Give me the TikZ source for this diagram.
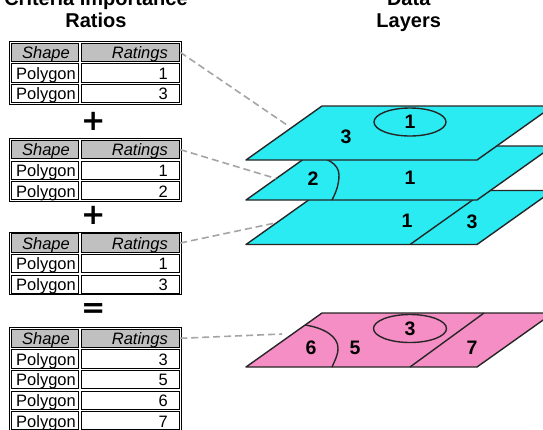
\documentclass[tikz,border=0pt]{standalone}
\usepackage{fontspec}
\setmainfont{Liberation Sans}
\newfontfamily\symfont{DejaVu Sans}
\usetikzlibrary{fit}

\definecolor{layercyan}{RGB}{42,234,242}
\definecolor{layerpink}{RGB}{245,142,196}
\definecolor{hdrgray}{RGB}{192,192,192}
\definecolor{leader}{RGB}{165,165,165}

\tikzset{
  cellbox/.style={draw=black, line width=0.9pt, inner sep=0pt, minimum height=18.2pt},
  hdrbox/.style={cellbox, fill=hdrgray},
  celltext/.style={inner sep=0pt, font=\fontsize{16.5}{18}\selectfont},
  tableframe/.style={draw=black, line width=1pt, inner sep=1.2pt},
  layerline/.style={draw=black!85, line width=1.4pt, line join=round},
  laynum/.style={font=\bfseries\fontsize{19.5}{21}\selectfont, inner sep=0pt},
  titletext/.style={font=\bfseries\fontsize{20}{24}\selectfont, inner sep=0pt, anchor=base},
  opsign/.style={font=\symfont\bfseries\fontsize{29}{31}\selectfont, inner sep=0pt},
  leaderline/.style={draw=leader, line width=1.6pt, dash pattern=on 7pt off 4pt},
}

% a ratings table: #1 name, #2 top edge, #3 number of data rows, #4 ratings
\newcommand\ratingtable[4]{%
  \node[hdrbox, minimum width=67.6pt] (#1-hs) at (45,#2+10.3) {};
  \node[hdrbox, minimum width=98.6pt] (#1-hr) at (130.5,#2+10.3) {};
  \node[celltext, anchor=base] (#1-hst) at (46,#2+16.6) {\itshape Shape};
  \node[celltext, anchor=base east] (#1-hrt) at (168,#2+16.6) {\itshape Ratings};
  \foreach \v [count=\i] in {#4} {
    \node[cellbox, minimum width=67.6pt] (#1-\i s) at (45,#2+10.3+20.6*\i) {};
    \node[cellbox, minimum width=98.6pt] (#1-\i r) at (130.5,#2+10.3+20.6*\i) {};
    \node[celltext, anchor=base west] (#1-\i st) at (16,#2+16.6+20.6*\i) {Polygon};
    \node[celltext, anchor=base east] (#1-\i rt) at (168,#2+16.6+20.6*\i) {\v};
  }
  \node[tableframe, fit=(#1-hs)(#1-#3r)] (#1) {};
}

% one map layer seen in perspective: #1 bottom edge, #2 fill
\newcommand\slab[2]{%
  \draw[layerline, fill=#2] (246,#1) -- (477,#1) -- (553,#1-54) -- (322,#1-54) -- cycle;
}

\begin{document}
\begin{tikzpicture}[x=1pt, y=-1pt]
  \useasboundingbox (0,0) rectangle (543,429);
  \clip (0,0) rectangle (543,429);

  % headings
  \node[titletext] (critA) at (96,5) {Criteria Importance};
  \node[titletext] (critB) at (96,27.5) {Ratios};
  \node[titletext] (dataA) at (408.7,5) {Data};
  \node[titletext] (dataB) at (408.7,27.5) {Layers};

  % tables of ratings
  \ratingtable{t1}{42}{2}{1,3}
  \ratingtable{t2}{139.3}{2}{1,2}
  \ratingtable{t3}{232.7}{2}{1,3}
  \ratingtable{t4}{328}{4}{3,5,6,7}

  % operators between the tables
  \node[opsign] (plusA) at (93.3,121) {+};
  \node[opsign] (plusB) at (93.3,215.5) {+};
  \node[opsign] (equal) at (93.3,311) {=};

  % lowest layer
  \slab{244.5}{layercyan}
  \draw[layerline] (410,244.5) -- (486,190.5);
  \node[laynum] (b1) at (407,221) {1};
  \node[laynum] (b3) at (472,222) {3};

  % middle layer
  \slab{200}{layercyan}
  \draw[layerline] (309,155) .. controls (327,157) and (339,164) .. (339,175)
                   .. controls (339,186) and (335,194) .. (332,200);
  \node[laynum] (m2) at (313,179) {2};
  \node[laynum] (m1) at (410,178) {1};

  % top layer
  \slab{160}{layercyan}
  \draw[layerline] (410,122) ellipse [x radius=36pt, y radius=14pt];
  \node[laynum] (u1) at (410,122) {1};
  \node[laynum] (u3) at (346,137) {3};

  % combined layer
  \slab{367}{layerpink}
  \draw[layerline] (410,367) -- (484,313);
  \draw[layerline] (305,325) .. controls (325,328) and (338,337) .. (338,348)
                   .. controls (338,356) and (334,362) .. (332,367);
  \draw[layerline] (410,328.5) ellipse [x radius=36.5pt, y radius=14pt];
  \node[laynum] (r3) at (410,328.5) {3};
  \node[laynum] (r6) at (311,348) {6};
  \node[laynum] (r5) at (355,348) {5};
  \node[laynum] (r7) at (472,348) {7};

  % leaders from each table to its layer
  \coordinate (in1) at (287,125);
  \coordinate (in2) at (276,178.5);
  \coordinate (in3) at (275,223);
  \coordinate (in4) at (282,334);
  \draw[leaderline] (t1-hr.east) -- (in1);
  \draw[leaderline] (t2-hr.east) -- (in2);
  \draw[leaderline] (t3-hr.east) -- (in3);
  \draw[leaderline] (t4-hr.east) -- (in4);
\end{tikzpicture}
\end{document}
